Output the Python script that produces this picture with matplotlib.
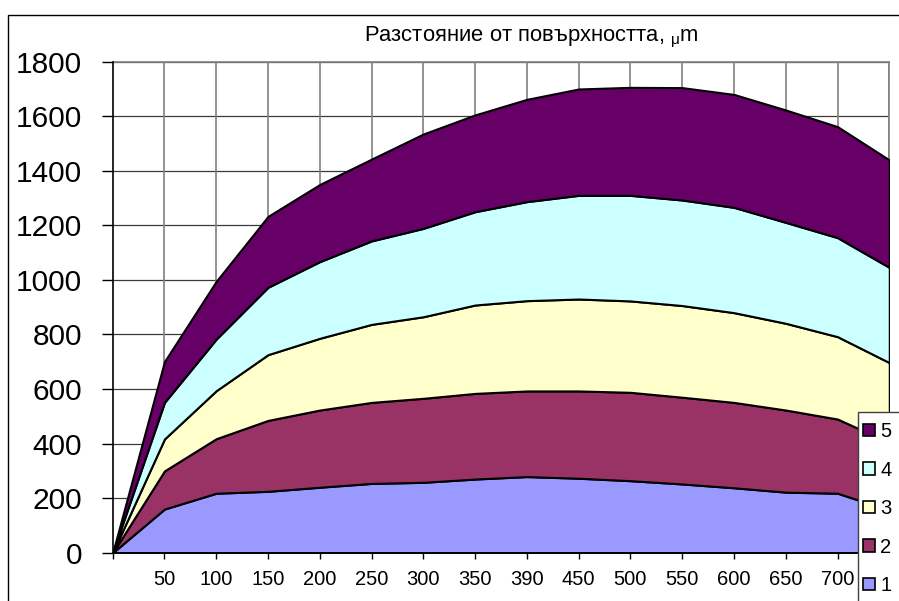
import matplotlib
matplotlib.use("Agg")
import matplotlib.pyplot as plt
from matplotlib.patches import Patch, Rectangle

plt.rcParams['font.family'] = ['Liberation Sans', 'DejaVu Sans']
plt.rcParams['mathtext.fontset'] = 'custom'
plt.rcParams['mathtext.rm'] = 'Liberation Sans'

# Distance from the surface, one column per category
categories = ['', '50', '100', '150', '200', '250', '300', '350', '390',
              '450', '500', '550', '600', '650', '700', '750']

series_1 = [0, 160, 218, 225, 240, 254, 258, 270, 279, 273, 264, 252, 238, 222, 218, 156]
series_2 = [0, 140, 200, 260, 283, 297, 308, 314, 314, 320, 324, 318, 313, 301, 272, 248]
series_3 = [0, 117, 176, 241, 263, 286, 299, 324, 331, 337, 335, 336, 329, 318, 302, 293]
series_4 = [0, 134, 189, 247, 281, 306, 324, 342, 363, 380, 387, 387, 386, 370, 363, 349]
series_5 = [0, 150, 212, 260, 283, 300, 346, 355, 375, 390, 396, 412, 414, 412, 407, 394]

series_names = ['1', '2', '3', '4', '5']
colors = ['#9999FF', '#993366', '#FFFFCC', '#CCFFFF', '#660066']

W, H = 899, 601
fig = plt.figure(figsize=(W / 100, H / 100), dpi=100)
ax = fig.add_axes([112.7 / W, 48.3 / H, (889.3 - 112.7) / W, (552.7 - 61.7) / H])

x = list(range(len(categories)))
ax.stackplot(x, series_1, series_2, series_3, series_4, series_5,
             colors=colors, edgecolor='black', linewidth=1.5, zorder=3)

ax.set_xlim(0, len(categories) - 1)
ax.set_ylim(0, 1800)
ax.set_yticks(range(0, 1801, 200))
ax.set_xticks(x)
ax.set_xticklabels(categories)
# the last category label sits under the legend box
ax.get_xticklabels()[-1].set_visible(False)

for v in range(200, 1801, 200):
    ax.axhline(v, color='#3a3a3a', linewidth=0.9, zorder=1)
for xi in x[1:]:
    ax.axvline(xi, color='#808080', linewidth=1.2, zorder=1)

ax.tick_params(axis='y', direction='out', length=8, width=1, labelsize=21.5,
               pad=14, colors='black')
ax.tick_params(axis='x', direction='out', length=4.5, width=1, labelsize=14.5,
               pad=8, colors='black')

for side in ('top', 'right'):
    ax.spines[side].set_color('#808080')
    ax.spines[side].set_linewidth(1.2)
for side in ('left', 'bottom'):
    ax.spines[side].set_color('black')
    ax.spines[side].set_linewidth(1.2)
    ax.spines[side].set_zorder(4)

# chart area frame
fig.patches.append(Rectangle((8.3 / W, -0.2), 1.2, 1.2 - 14.5 / H,
                             transform=fig.transFigure, facecolor='none',
                             edgecolor='black', linewidth=1.0, zorder=1))

fig.text(531 / W, 1 - 41.7 / H,
         'Разстояние от повърхността, $_\\mathregular{\\mu}$m',
         ha='center', va='baseline', fontsize=15.8)

# legend box
fig.patches.append(Rectangle((858.3 / W, -0.2), 0.3, 0.2 + 1 - 411.7 / H,
                             transform=fig.transFigure, facecolor='white',
                             edgecolor='#404040', linewidth=1.0, zorder=4))
handles = [Patch(facecolor=c, edgecolor='black', linewidth=1.2) for c in colors]
fig.legend(handles[::-1], series_names[::-1], loc='upper left',
           bbox_to_anchor=(863 / W, 1 - 422 / H), frameon=False,
           fontsize=14.5, handlelength=0.6, handleheight=0.6,
           handletextpad=0.25, labelspacing=0.97, borderpad=0,
           borderaxespad=0)

fig.savefig('out.png', dpi=100)
